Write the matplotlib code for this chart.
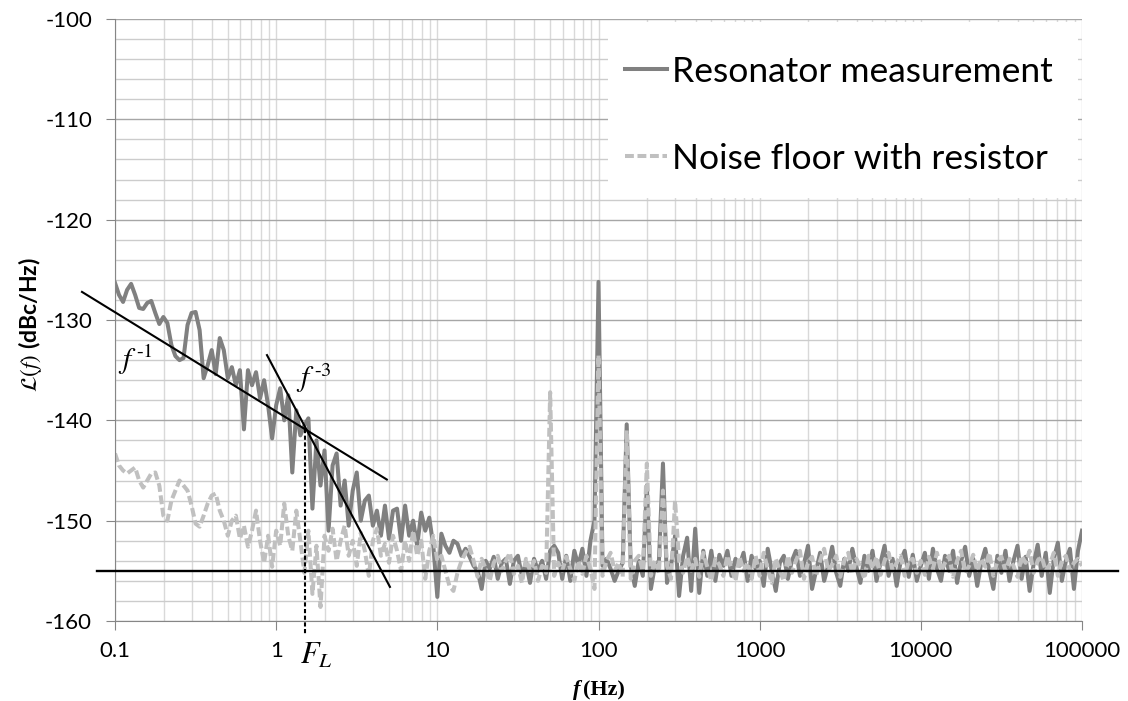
import numpy as np
import matplotlib
matplotlib.use("Agg")
import matplotlib.pyplot as plt
from matplotlib.ticker import FixedLocator, MultipleLocator, NullFormatter
from matplotlib.patches import Rectangle

plt.rcParams['font.family'] = ['Lato', 'DejaVu Sans']
plt.rcParams['mathtext.fontset'] = 'stix'
plt.rcParams['axes.unicode_minus'] = False

# analyser bins: 40 per decade, 0.1 Hz .. 100 kHz
freq = np.logspace(-1, 5, 241)

# resonator measurement (dBc/Hz), one list per decade
res_d1 = [-126.3, -127.5, -128.2, -127.0, -126.4, -127.5, -128.8, -128.9, -128.3, -128.1,
          -129.3, -130.4, -129.7, -130.3, -132.5, -133.6, -134.0, -133.8, -130.5, -129.3,
          -129.2, -131.0, -135.8, -134.5, -133.0, -135.4, -131.8, -133.0, -135.8, -134.7,
          -136.5, -135.0, -140.9, -135.0, -136.5, -135.2, -137.8, -136.0, -138.5, -141.8]
res_d2 = [-138.5, -136.8, -140.0, -137.5, -145.2, -139.0, -141.5, -140.5, -139.8, -148.8,
          -142.0, -146.5, -143.0, -151.0, -144.5, -143.3, -148.5, -146.0, -150.5, -147.0,
          -145.2, -150.0, -148.0, -147.5, -150.5, -149.0, -151.5, -148.5, -151.8, -149.0,
          -148.8, -152.0, -148.5, -151.5, -150.0, -152.5, -149.2, -151.0, -149.7, -152.5]
res_d3 = [-157.6, -151.3, -152.5, -153.2, -152.0, -152.3, -153.5, -152.8, -153.6, -154.5,
          -155.0, -156.8, -154.0, -154.8, -153.6, -155.8, -154.2, -153.8, -156.3, -154.0,
          -153.5, -155.5, -154.2, -156.2, -153.8, -155.0, -154.0, -155.8, -153.0, -152.5,
          -153.2, -155.8, -153.5, -156.0, -153.0, -154.5, -152.8, -155.5, -152.0, -150.0]
res_d4 = [-126.2, -154.5, -153.8, -154.8, -156.0, -155.0, -154.2, -140.4, -154.5, -156.5,
          -154.0, -155.5, -146.5, -156.8, -154.5, -154.0, -144.3, -156.2, -154.5, -151.5,
          -157.5, -153.5, -151.7, -157.0, -150.8, -157.2, -153.0, -155.5, -153.0, -156.0,
          -153.4, -154.5, -153.0, -155.5, -153.8, -154.5, -153.2, -156.0, -153.5, -154.8]
res_d5 = [-154.0, -156.5, -152.8, -155.0, -157.0, -154.2, -153.5, -155.8, -154.0, -153.0,
          -155.5, -154.3, -152.5, -156.8, -155.0, -153.2, -156.0, -154.5, -152.6, -155.2,
          -156.5, -153.8, -155.0, -152.8, -154.6, -156.2, -153.5, -155.0, -153.0, -156.0,
          -154.2, -152.5, -155.5, -153.8, -156.5, -154.0, -153.0, -155.6, -153.4, -156.0]
res_d6 = [-154.5, -153.2, -155.8, -152.8, -154.8, -156.0, -153.5, -155.0, -153.0, -156.2,
          -154.0, -152.6, -155.5, -153.8, -156.5, -154.2, -152.8, -155.0, -156.8, -153.5,
          -155.2, -153.0, -156.0, -154.0, -152.5, -155.8, -153.6, -157.0, -154.3, -152.4,
          -155.5, -153.2, -157.2, -153.8, -152.2, -156.0, -154.0, -152.8, -156.8, -153.0,
          -151.0]

# noise floor with resistor (dBc/Hz)
nf_d1 = [-143.3, -144.5, -145.0, -145.3, -145.0, -144.7, -146.0, -146.7, -146.0, -145.3,
         -145.2, -146.5, -149.5, -150.0, -148.0, -147.0, -146.0, -146.5, -147.0, -148.5,
         -150.3, -150.6, -149.5, -148.3, -147.5, -147.3, -149.0, -150.0, -151.5, -150.0,
         -149.5, -151.8, -150.5, -152.6, -151.0, -149.0, -152.0, -154.2, -151.5, -154.6]
nf_d2 = [-151.0, -152.5, -148.3, -151.5, -153.0, -149.0, -152.0, -155.2, -151.0, -157.3,
         -152.5, -158.6, -151.5, -153.0, -150.8, -154.0, -152.0, -150.5, -153.5, -152.0,
         -154.5, -151.2, -153.0, -155.5, -152.0, -150.8, -153.5, -152.3, -154.2, -151.5,
         -153.0, -155.0, -152.0, -154.0, -151.0, -153.5, -152.0, -155.8, -153.0, -151.5]
nf_d3 = [-154.0, -153.5, -155.0, -156.5, -157.0, -155.2, -154.0, -153.2, -152.6, -154.0,
         -155.6, -153.8, -154.8, -156.0, -154.2, -153.5, -155.0, -154.0, -153.2, -155.3,
         -154.5, -156.2, -153.8, -155.0, -154.0, -156.0, -154.5, -155.2, -137.2, -155.5,
         -154.2, -155.0, -153.6, -154.8, -156.0, -154.0, -155.3, -153.5, -154.8, -156.8]
nf_d4 = [-133.5, -155.5, -154.0, -153.2, -155.0, -154.2, -155.6, -141.0, -155.8, -154.0,
         -153.5, -155.0, -144.3, -155.5, -154.0, -155.2, -147.0, -154.5, -155.8, -148.0,
         -154.0, -155.2, -153.6, -155.0, -153.8, -155.6, -153.2, -154.6, -156.0, -153.8,
         -154.4, -155.5, -153.5, -154.8, -156.0, -153.6, -155.0, -154.2, -155.8, -153.5]
nf_d5 = [-155.5, -153.2, -154.8, -156.2, -153.8, -155.0, -156.0, -153.5, -155.2, -154.0,
         -153.0, -155.8, -154.2, -153.6, -155.5, -154.0, -152.8, -155.0, -154.4, -153.5,
         -155.6, -154.0, -153.2, -155.3, -153.8, -154.6, -155.8, -153.5, -154.8, -153.6,
         -155.4, -154.0, -153.2, -155.0, -154.2, -153.5, -155.5, -154.0, -153.8, -155.2]
nf_d6 = [-154.0, -155.4, -153.6, -154.8, -153.2, -155.0, -154.2, -153.5, -155.6, -154.0,
         -153.0, -155.2, -154.5, -153.4, -155.0, -153.8, -154.6, -153.2, -155.5, -154.0,
         -153.6, -155.0, -153.8, -154.5, -155.6, -153.5, -154.2, -153.0, -155.2, -154.0,
         -153.6, -155.0, -154.4, -153.2, -155.5, -154.0, -153.5, -155.0, -154.2, -153.8,
         -154.5]

# fitted slopes and floor
f1_freq = [0.0624, 4.86]
f1_db = [-127.2, -145.9]
f3_freq = [0.877, 5.08]
f3_db = [-133.5, -156.6]
floor_freq = [0.0773, 166700]
floor_db = [-155.0, -155.0]
FL = 1.51
FL_db = [-140.9, -161.4]

xticks = [0.1, 1, 10, 100, 1000, 10000, 100000]
xtick_labels = ['0.1', '1', '10', '100', '1000', '10000', '100000']


def main():
    res = np.concatenate([res_d1, res_d2, res_d3, res_d4, res_d5, res_d6])
    nf = np.concatenate([nf_d1, nf_d2, nf_d3, nf_d4, nf_d5, nf_d6])

    fig = plt.figure(figsize=(11.28, 7.01), dpi=100)
    ax = fig.add_axes([115 / 1128, 1 - 621 / 701, 967 / 1128, 602 / 701])

    ax.plot(freq, res, color='#808080', lw=2.9, label='Resonator measurement', zorder=2)
    ax.plot(freq, nf, color='#c0c0c0', lw=2.9, dashes=(2.2, 0.9),
            label='Noise floor with resistor', zorder=2.1)

    ax.plot(f1_freq, f1_db, color='black', lw=1.5, clip_on=False, zorder=4)
    ax.plot(f3_freq, f3_db, color='black', lw=1.5, clip_on=False, zorder=4)
    ax.plot(floor_freq, floor_db, color='black', lw=1.7, clip_on=False, zorder=4)
    ax.plot([FL, FL], FL_db, color='black', lw=1.5, dashes=(2.0, 1.2), clip_on=False, zorder=4)

    ax.set_xscale('log')
    ax.set_xlim(0.1, 100000)
    ax.set_ylim(-160, -100)
    ax.xaxis.set_major_locator(FixedLocator(xticks))
    ax.set_xticklabels(xtick_labels)
    ax.xaxis.set_minor_locator(FixedLocator(
        [m * d for d in [0.1, 1, 10, 100, 1000, 10000] for m in range(2, 10)]))
    ax.xaxis.set_minor_formatter(NullFormatter())
    ax.yaxis.set_major_locator(MultipleLocator(10))
    ax.yaxis.set_minor_locator(MultipleLocator(2))

    ax.set_axisbelow(True)
    ax.grid(which='major', axis='y', color='#a6a6a6', lw=1.0)
    ax.grid(which='minor', axis='y', color='#cccccc', lw=1.0)
    ax.grid(which='both', axis='x', color='#d9d9d9', lw=1.0)

    for s in ['top', 'right']:
        ax.spines[s].set_visible(False)
    for s in ['left', 'bottom']:
        ax.spines[s].set_color('#868686')
    ax.tick_params(which='major', direction='out', length=6.5, color='#868686',
                   labelsize=16, labelcolor='black')
    ax.tick_params(axis='y', pad=10)
    ax.tick_params(axis='x', pad=8)
    ax.tick_params(which='minor', length=0)

    # white legend panel
    ax.add_patch(Rectangle((0.5098, 0.7027), 0.486, 0.293, transform=ax.transAxes,
                           facecolor='white', edgecolor='none', zorder=3))
    leg = ax.legend(loc='upper left', bbox_to_anchor=(0.527, 0.939), frameon=False,
                    fontsize=25.5, handlelength=1.2, handletextpad=0.15,
                    labelspacing=1.55, borderpad=0, borderaxespad=0)
    leg.set_zorder(5)

    # annotations
    ax.text(0.104, -134.9, r'$f^{\,\text{-}1}$', fontsize=21, clip_on=False)
    ax.text(1.33, -136.7, r'$f^{\,\text{-}3}$', fontsize=21, clip_on=False)
    ax.text(1.40, -164.3, r'$F_L$', fontsize=22, clip_on=False)

    fig.text(30 / 1128, 1 - 325 / 701, r'$\mathcal{L}(f)$ (dBc/Hz)', rotation=90,
             ha='center', va='center', fontsize=16.5, fontweight='bold')
    fig.text(580 / 1128, 1 - 690 / 701, 'f', ha='right', va='center', fontsize=16,
             family='Liberation Serif', style='italic', fontweight='bold')
    fig.text(583 / 1128, 1 - 690 / 701, '(Hz)', ha='left', va='center', fontsize=16,
             family='Liberation Serif', fontweight='bold')

    fig.savefig('out.png', dpi=100)


if __name__ == "__main__":
    main()
